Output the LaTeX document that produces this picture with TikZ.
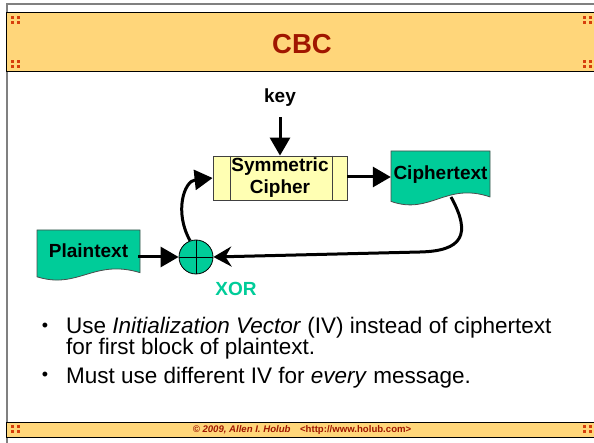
\documentclass[tikz,border=0pt]{standalone}
\usepackage{fontspec}
\setmainfont{Liberation Sans}
\usepackage{tikz}
\usetikzlibrary{arrows.meta,positioning}

\definecolor{bandfill}{RGB}{255,214,122}
\definecolor{titlered}{RGB}{160,22,0}
\definecolor{dotred}{RGB}{214,62,12}
\definecolor{docteal}{RGB}{0,204,153}
\definecolor{cipherfill}{RGB}{255,255,179}
\definecolor{framegray}{RGB}{128,128,128}

\tikzset{
  band/.style={fill=bandfill,draw=black,line width=1pt},
  lbl/.style={font=\bfseries\fontsize{19}{22}\selectfont,inner sep=0pt},
  docnode/.style={lbl,text height=14pt,text depth=4pt,minimum width=99pt,minimum height=46pt},
  cipherbox/.style={lbl,align=center,draw=black!75,fill=cipherfill,line width=0.8pt,minimum width=134pt,minimum height=44pt},
  xorcirc/.style={circle,draw=black,fill=docteal,minimum size=34pt,inner sep=0pt,line width=0.8pt},
  bigarrow/.style={line width=3pt,-{Triangle[width=20pt,length=18pt]}},
  backarrow/.style={line width=3pt,-{Stealth[width=20pt,length=18pt,inset=6pt]}},
  bullettext/.style={font=\fontsize{22.5}{22.5}\selectfont,anchor=base west,inner sep=0pt},
  bulletdot/.style={anchor=base,inner sep=0pt,font=\fontsize{18}{18}\selectfont}
}

\newcommand{\cornerdots}[2]{%
  \foreach \dx in {0,6} \foreach \dy in {0,5}
    \fill[dotred] ({#1+\dx},{#2+\dy}) rectangle ++(3.4,2.8);}

\newcommand{\docshape}[4]{%
  \filldraw[fill=docteal,draw=black!70,line width=0.8pt] (#1,#2) -- ({#1+#3},#2) -- ({#1+#3},{#2+0.82*#4})
    .. controls ({#1+0.55*#3},{#2+0.55*#4}) and ({#1+0.4*#3},{#2+1.15*#4}) .. (#1,{#2+0.9*#4}) -- cycle;}

\begin{document}
\begin{tikzpicture}[x=1pt,y=-1pt]
  \useasboundingbox (0,0) rectangle (594,443);
  \draw[framegray,line width=1.5pt] (7,443) -- (7,4) -- (597,4);
  \draw[band] (6,13) rectangle (597,72);
  \draw[band] (6,422) rectangle (597,437);
  \cornerdots{11}{16} \cornerdots{11}{60} \cornerdots{583}{16} \cornerdots{583}{60}
  \cornerdots{11}{425} \cornerdots{583}{425}
  \node (title) at (302,54) [anchor=base,text=titlered,font=\bfseries\fontsize{27.5}{27.5}\selectfont] {CBC};
  \node (footer) at (302,432.5) [anchor=base,text=titlered,font=\bfseries\fontsize{9.6}{9.6}\selectfont] {\textit{© 2009, Allen I. Holub}\quad{}<http://www.holub.com>};

  \docshape{37}{230}{103}{52}
  \docshape{391}{151}{99}{56}
  \node (key) at (280,98) [lbl] {key};
  \node (cipher) at (280,178) [cipherbox] {Symmetric\\Cipher};
  \draw[black!75,line width=0.8pt] ([xshift=18pt]cipher.north west) -- ([xshift=18pt]cipher.south west);
  \draw[black!75,line width=0.8pt] ([xshift=-15pt]cipher.north east) -- ([xshift=-15pt]cipher.south east);
  \node (ciph) at (440.5,175) [docnode] {Ciphertext};
  \node (plain) at (88.5,253) [docnode] {Plaintext};
  \node (xor) at (196,257) [xorcirc] {};
  \draw[line width=0.8pt] (xor.north) -- (xor.south) (xor.west) -- (xor.east);
  \node (xorlbl) at (236,289) [lbl,text=docteal,font=\bfseries\fontsize{19}{19}\selectfont] {XOR};
  \coordinate (ctail) at (451,197);

  \draw[bigarrow,shorten <=10pt] (key) -- (cipher);
  \draw[bigarrow] (cipher.east |- 0,177) -- (ciph.west |- 0,177);
  \draw[bigarrow] (plain.east |- xor) -- (xor);
  \draw[bigarrow] (xor.110) .. controls (174,212) and (184,181) .. (cipher.west);
  \draw[backarrow] (ctail) .. controls (472,235) and (462,251) .. (420,252) -- (xor.east);

  \node (bul1) at (45,331) [bulletdot] {•};
  \node (line1) at (66,334) [bullettext] {Use \textit{Initialization Vector} (IV) instead of ciphertext};
  \node (line2) at (66,355) [bullettext] {for first block of plaintext.};
  \node (bul2) at (45,380) [bulletdot] {•};
  \node (line3) at (66,383) [bullettext] {Must use different IV for \textit{every} message.};
\end{tikzpicture}
\end{document}
